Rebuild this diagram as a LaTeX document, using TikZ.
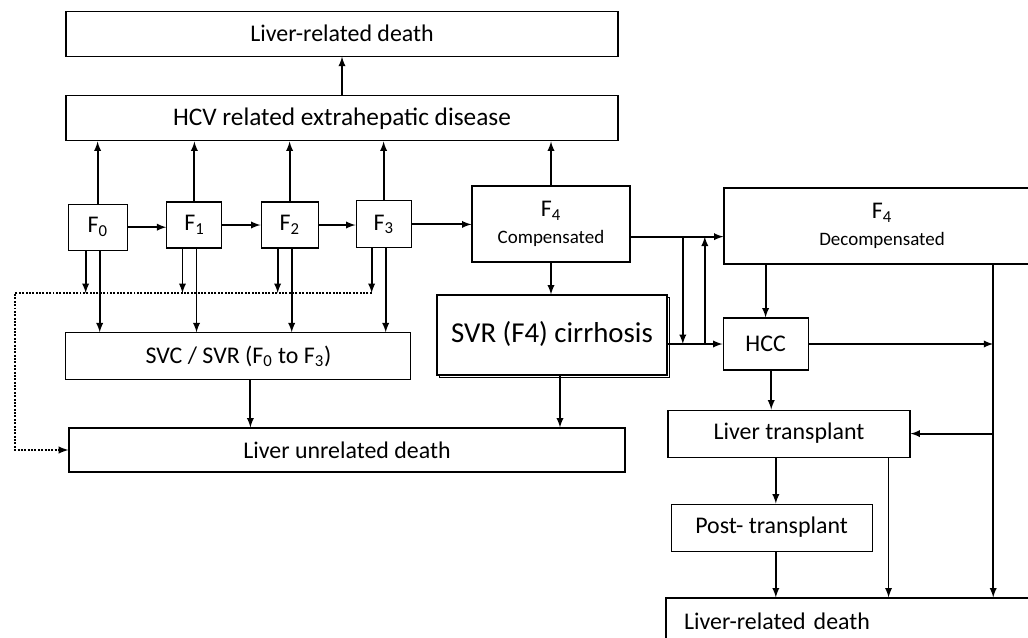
\documentclass[tikz,border=0pt]{standalone}
\usepackage{fontspec}
\setmainfont{Carlito}
\usetikzlibrary{shadows}

\begin{document}
\begin{tikzpicture}[x=1cm,y=-1cm,
	box/.style={draw,line width=0.8pt,fill=white,inner sep=2pt,font=\fontsize{17}{20}\selectfont},
	arr/.style={-latex,line width=1.3pt}]
\clip (0,0) rectangle (25.7,15.925);

\node[box,minimum width=13.8cm,minimum height=1.125cm] (topdeath) at (8.55,0.84) {Liver-related death};
\node[box,minimum width=13.8cm,minimum height=1.125cm,font=\fontsize{18}{21}\selectfont] (hcv) at (8.55,2.96) {HCV related extrahepatic disease};
\node[box,minimum width=1.475cm,minimum height=1.15cm] (f0) at (2.44,5.68) {F\textsubscript{0}};
\node[box,minimum width=1.375cm,minimum height=1.15cm] (f1) at (4.86,5.625) {F\textsubscript{1}};
\node[box,minimum width=1.425cm,minimum height=1.15cm] (f2) at (7.24,5.625) {F\textsubscript{2}};
\node[box,minimum width=1.375cm,minimum height=1.175cm] (f3) at (9.59,5.61) {F\textsubscript{3}};
\node[box,align=center,minimum width=3.95cm,minimum height=1.9cm] (f4c) at (13.775,5.6) {F\textsubscript{4}\\[-1pt]{\fontsize{13.5}{16}\selectfont Compensated}};
\node[box,align=center,minimum width=7.9cm,minimum height=1.9cm] (f4d) at (22.05,5.65) {F\textsubscript{4}\\[-1pt]{\fontsize{13.5}{16}\selectfont Decompensated}};
\node[box,minimum width=5.75cm,minimum height=2cm,font=\fontsize{20.5}{24}\selectfont,
	copy shadow={shadow xshift=2pt,shadow yshift=-2pt}] (svrc) at (13.8,8.375) {\raisebox{4pt}{SVR (F4) cirrhosis}};
\node[box,minimum width=2.125cm,minimum height=1.3cm] (hcc) at (19.14,8.6) {HCC};
\node[box,minimum width=8.625cm,minimum height=1.175cm] (svc) at (5.96,8.91) {SVC / SVR (F\textsubscript{0} to F\textsubscript{3})};
\node[box,minimum width=13.9cm,minimum height=1.1cm] (unrel) at (8.675,11.25) {Liver unrelated death};
\node[box,minimum width=6.05cm,minimum height=1.175cm] (lt) at (19.725,10.84) {Liver transplant};
\node[box,minimum width=5.025cm,minimum height=1.175cm] (post) at (19.29,13.19) {Post- transplant};
\node[box,minimum width=9.35cm,minimum height=1.15cm,text width=8.45cm,inner xsep=0.45cm,align=left] (botdeath) at (21.325,15.525) {Liver-related death};

\coordinate (dl) at (0.375,7.325);
\coordinate (rv) at (24.83,0);
\coordinate (x1) at (17.07,0);
\coordinate (x2) at (17.62,0);
\coordinate (c4) at ([yshift=-9pt]f4c.east);

\draw[arr] (hcv) -- (topdeath);
\foreach \a/\b in {f0/f1,f1/f2,f2/f3,f3/f4c}
	\draw[arr] (\a.east) -- (\a.east -| \b.west);
\foreach \f in {f0,f1,f2,f3,f4c}
	\draw[arr] (\f.north) -- (\f.north |- hcv.south);
\foreach \f in {f0,f1,f2,f3} {
	\coordinate (\f-l) at ([xshift=1.5pt]\f.south);
	\coordinate (\f-s) at ([xshift=-8.5pt]\f.south);
	\draw[arr] (\f-l) -- (\f-l |- svc.north);
	\draw[arr] (\f-s) -- (\f-s |- dl);
}
\draw[densely dotted,line width=1.4pt,-latex] (f3-s |- dl) -- (dl) |- (unrel.west);

\coordinate (s1) at ([xshift=0.3cm]svc.south);
\coordinate (s2) at ([xshift=0.2cm]svrc.south);
\draw[arr] (s1) -- (s1 |- unrel.north);
\draw[arr] (s2) -- (s2 |- unrel.north);
\draw[arr] (f4c.south) -- (f4c.south |- svrc.north);
\draw[arr] (c4) -- (c4 -| f4d.west);
\draw[arr] (hcc.west -| svrc.east) -- (hcc.west);
\draw[arr] (x1 |- c4) -- (x1 |- hcc.west);
\draw[arr] (x2 |- hcc.west) -- (x2 |- c4);

\draw[arr] (hcc.north |- f4d.south) -- (hcc.north);
\draw[arr] (rv |- f4d.south) -- (rv |- botdeath.north);
\draw[arr] (hcc.east) -- (hcc.east -| rv);
\draw[arr] (lt.east -| rv) -- (lt.east);

\coordinate (h1) at ([xshift=4pt]hcc.south);
\coordinate (p1) at ([xshift=3pt]post.north);
\coordinate (p2) at ([xshift=3pt]post.south);
\coordinate (l1) at ([xshift=-0.55cm]lt.south east);
\draw[arr] (h1) -- (h1 |- lt.north);
\draw[arr] (p1 |- lt.south) -- (p1);
\draw[arr] (p2) -- (p2 |- botdeath.north);
\draw[arr] (l1) -- (l1 |- botdeath.north);
\end{tikzpicture}
\end{document}
